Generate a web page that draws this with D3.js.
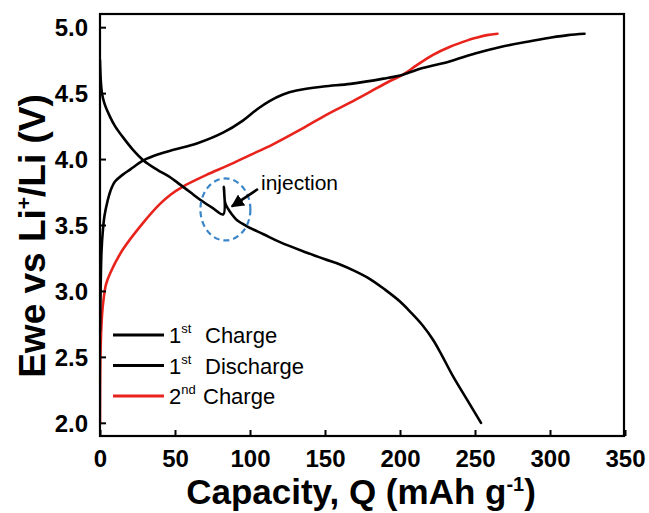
<!DOCTYPE html>
<html>
<head>
<meta charset="utf-8">
<script src="https://cdn.jsdelivr.net/npm/d3@7"></script>
<style>
  html, body { margin: 0; padding: 0; background: #fff; }
  svg { display: block; }
  text { font-family: Arial, "Liberation Sans", Helvetica, sans-serif; }
</style>
</head>
<body>
<svg id="chart" width="649" height="513"></svg>
<script>
// Capacity (mAh/g) and voltage (V) for each cycle
const charge1Q = [0, 0.4, 1, 2, 3, 5, 7, 10, 15, 20, 29, 40, 49, 65, 82, 95, 105, 113, 122, 131, 149, 167, 189, 202, 215, 233, 250, 267, 285, 300, 312, 323];
const charge1V = [2.7, 3.0, 3.3, 3.47, 3.57, 3.68, 3.76, 3.83, 3.88, 3.92, 3.99, 4.04, 4.07, 4.12, 4.20, 4.29, 4.38, 4.44, 4.49, 4.52, 4.55, 4.57, 4.61, 4.64, 4.69, 4.74, 4.80, 4.85, 4.89, 4.92, 4.94, 4.95];

const discharge1Q = [0, 0.5, 1.3, 3, 6.7, 10, 15, 22, 29, 38, 47, 53, 60, 67, 75, 82.2, 82.6, 83.4, 85, 88, 91, 98, 109, 120, 138, 150, 160, 170, 180, 190, 200, 207, 215, 222, 228, 235, 245, 254];
const discharge1V = [4.75, 4.6, 4.5, 4.42, 4.32, 4.25, 4.17, 4.07, 3.99, 3.92, 3.86, 3.81, 3.75, 3.69, 3.63, 3.58, 3.79, 3.67, 3.63, 3.58, 3.54, 3.49, 3.43, 3.37, 3.29, 3.24, 3.20, 3.15, 3.09, 3.01, 2.92, 2.84, 2.74, 2.63, 2.51, 2.36, 2.17, 2.0];

const charge2Q = [0, 0.3, 1, 2, 4, 7, 15, 29, 40, 47, 55, 71, 85, 100, 115, 133, 150, 167, 180, 193, 202, 211, 222, 233, 245, 251, 258, 265];
const charge2V = [2.0, 2.5, 2.75, 2.9, 3.05, 3.14, 3.31, 3.52, 3.66, 3.73, 3.79, 3.88, 3.95, 4.03, 4.11, 4.22, 4.33, 4.43, 4.51, 4.59, 4.64, 4.71, 4.79, 4.85, 4.90, 4.92, 4.94, 4.95];

const xTicks = [0, 50, 100, 150, 200, 250, 300, 350];
const yTicks = [2.0, 2.5, 3.0, 3.5, 4.0, 4.5, 5.0];

const legendNames = [["1", "st", "Charge"], ["1", "st", "Discharge"], ["2", "nd", "Charge"]];
const injectionQ = 82.6;
const injectionV = 3.58;

const svg = d3.select("#chart");
const frame = { left: 100, right: 624, top: 14, bottom: 436 };

const x = d3.scaleLinear().domain([0, 350]).range([frame.left, frame.left + 525]);
const y = d3.scaleLinear().domain([1.9, 5.1]).range([frame.bottom, frame.top]);

const zip = (qs, vs) => qs.map((q, i) => [q, vs[i]]);
const line = d3.line()
  .x(d => x(d[0]))
  .y(d => y(d[1]))
  .curve(d3.curveCatmullRom.alpha(0.5));

const series = [
  { data: zip(charge1Q, charge1V), color: "#000000" },
  { data: zip(discharge1Q, discharge1V), color: "#000000" },
  { data: zip(charge2Q, charge2V), color: "#e8231c" }
];

const defs = svg.append("defs");
defs.append("clipPath").attr("id", "clip")
  .append("rect").attr("x", frame.left).attr("y", frame.top)
  .attr("width", frame.right - frame.left).attr("height", frame.bottom - frame.top);

const curves = svg.append("g").attr("clip-path", "url(#clip)");
// red curve underneath the black ones
[series[2], series[0], series[1]].forEach(s => {
  curves.append("path")
    .attr("d", line(s.data))
    .attr("fill", "none")
    .attr("stroke", s.color)
    .attr("stroke-width", 2.6)
    .attr("stroke-linejoin", "round")
    .attr("stroke-linecap", "round");
});

// Axes with inward ticks
const xAxis = d3.axisBottom(x).tickValues(xTicks).tickSizeInner(-6).tickSizeOuter(0).tickPadding(14).tickFormat(d3.format("d"));
const yAxis = d3.axisLeft(y).tickValues(yTicks).tickSizeInner(-6).tickSizeOuter(0).tickPadding(12).tickFormat(d3.format(".1f"));

const gx = svg.append("g").attr("transform", `translate(0,${frame.bottom})`).call(xAxis);
const gy = svg.append("g").attr("transform", `translate(${frame.left},0)`).call(yAxis);
[gx, gy].forEach(g => {
  g.select(".domain").remove();
  g.selectAll(".tick line").attr("stroke", "#000").attr("stroke-width", 2);
  g.selectAll(".tick text")
    .attr("fill", "#000")
    .style("font-size", "24px")
    .style("font-weight", "bold");
});
gx.selectAll(".tick text").attr("dy", "0.71em");
gy.selectAll(".tick text").attr("dy", "0.36em");

// Frame
svg.append("rect")
  .attr("x", frame.left).attr("y", frame.top)
  .attr("width", frame.right - frame.left).attr("height", frame.bottom - frame.top)
  .attr("fill", "none").attr("stroke", "#000").attr("stroke-width", 2.2);

// Axis titles
const xt = svg.append("text")
  .attr("x", 361).attr("y", 504)
  .attr("text-anchor", "middle")
  .style("font-size", "35px").style("font-weight", "bold").attr("fill", "#000");
xt.append("tspan").text("Capacity, Q (mAh g");
xt.append("tspan").attr("dy", -13).style("font-size", "20px").text("-1");
xt.append("tspan").attr("dy", 13).text(")");

const yt = svg.append("text")
  .attr("transform", "translate(45,236) rotate(-90)")
  .attr("text-anchor", "middle")
  .style("font-size", "37px").style("font-weight", "bold").attr("fill", "#000");
yt.append("tspan").text("Ewe vs Li");
yt.append("tspan").attr("dy", -14).style("font-size", "21px").text("+");
yt.append("tspan").attr("dy", 14).text("/Li (V)");

// Legend
const legend = svg.append("g");
legendNames.forEach((n, i) => {
  const ly = 335 + i * 30.5;
  legend.append("line")
    .attr("x1", 113).attr("x2", 164).attr("y1", ly).attr("y2", ly)
    .attr("stroke", series[i].color).attr("stroke-width", 3);
  const t = legend.append("text").attr("x", 169).attr("y", ly + 8)
    .style("font-size", "22px").attr("fill", "#000");
  t.append("tspan").text(n[0]);
  t.append("tspan").attr("dy", -10).style("font-size", "13px").text(n[1]);
  t.append("tspan").attr("x", i === 2 ? 203 : 205).attr("dy", 10).text(n[2]);
});

// Injection marker: dashed ellipse, arrow and label
svg.append("ellipse")
  .attr("cx", x(injectionQ) + 1.5).attr("cy", y(injectionV) - 5)
  .attr("rx", 25).attr("ry", 31)
  .attr("fill", "none").attr("stroke", "#3b86c8")
  .attr("stroke-width", 2.2).attr("stroke-dasharray", "6,4");

defs.append("marker").attr("id", "arrowhead")
  .attr("viewBox", "0 0 10 10").attr("refX", 9).attr("refY", 5)
  .attr("markerWidth", 5).attr("markerHeight", 5).attr("orient", "auto")
  .append("path").attr("d", "M0,0 L10,5 L0,10 Z").attr("fill", "#000");

svg.append("line")
  .attr("x1", 258).attr("y1", 189)
  .attr("x2", x(injectionQ) + 8).attr("y2", y(injectionV) - 8)
  .attr("stroke", "#000").attr("stroke-width", 2.6)
  .attr("marker-end", "url(#arrowhead)");

svg.append("text")
  .attr("x", 261).attr("y", 190)
  .style("font-size", "21px").attr("fill", "#000")
  .text("injection");
</script>
</body>
</html>
